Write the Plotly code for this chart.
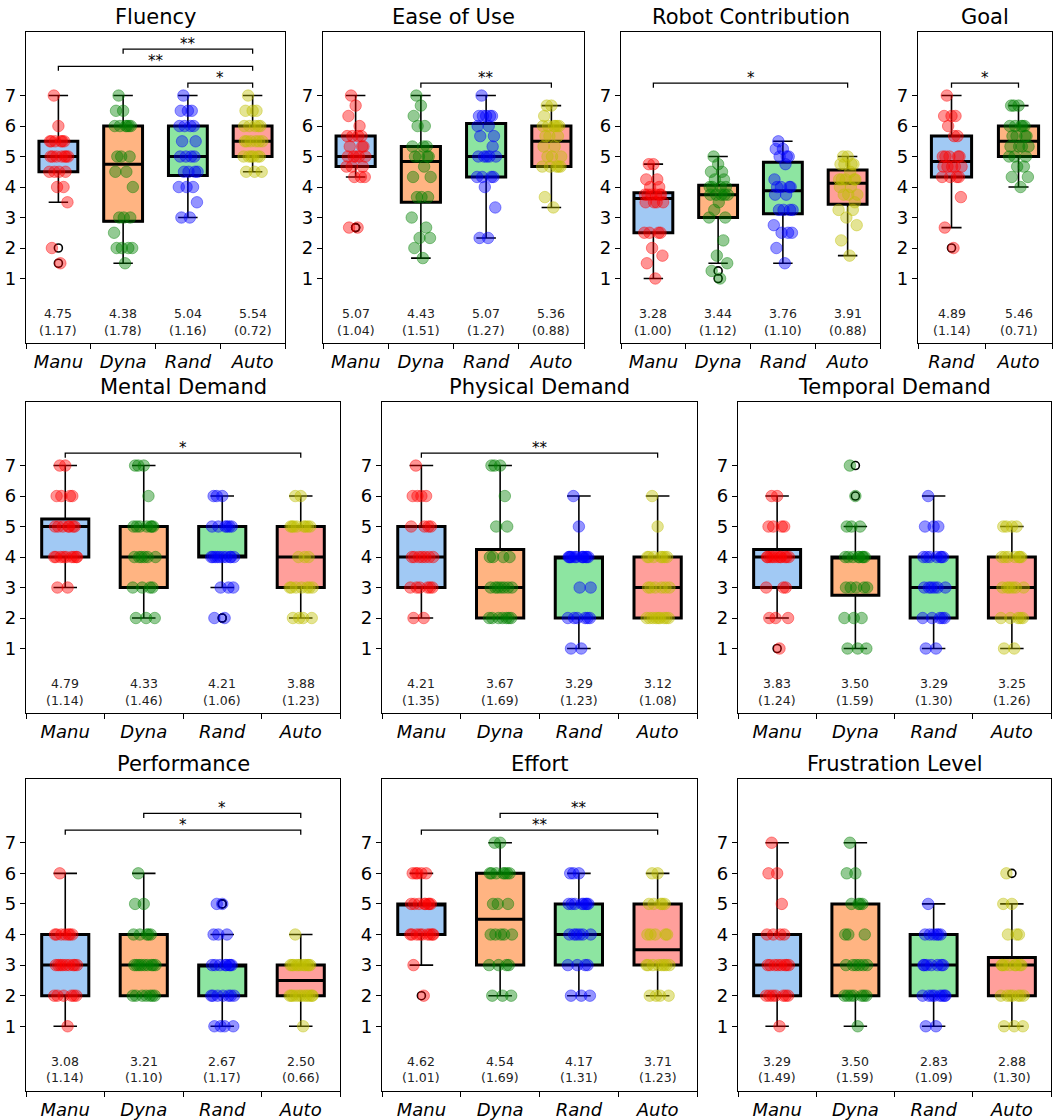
import numpy as np
import plotly.graph_objects as go

W, H = 1057, 1120
FONT = "DejaVu Sans"

# ---------------- data ----------------
CONDS = ["Manu", "Dyna", "Rand", "Auto"]
GOAL_CONDS = ["Rand", "Auto"]

FLU_MANU = [1.5, 2, 3.5, 4, 4, 4.5, 4.5, 4.5, 4.5, 5, 5, 5, 5, 5, 5, 5, 5.5, 5.5, 5.5, 5.5, 5.5, 5.5, 6, 7]
FLU_DYNA = [1.5, 2, 2, 2, 2, 2.5, 3, 3, 3, 4, 4.5, 4.5, 5, 5, 5, 6, 6, 6, 6, 6, 6, 6.5, 6.5, 7]
FLU_RAND = [3, 3, 3.5, 4, 4, 4, 4.5, 4.5, 4.5, 4.5, 5, 5, 5, 5, 5.5, 5.5, 6, 6, 6, 6, 6.5, 6.5, 6.5, 7]
FLU_AUTO = [4.5, 4.5, 4.5, 5, 5, 5, 5, 5, 5, 5.5, 5.5, 5.5, 5.5, 5.5, 5.5, 6, 6, 6, 6, 6, 6.5, 6.5, 6.5, 7]
FLU_MEAN = [4.75, 4.38, 5.04, 5.54]
FLU_SD = [1.17, 1.78, 1.16, 0.72]
FLU_SIG = [(2, 3, "*"), (0, 3, "**"), (1, 3, "**")]

EASE_MANU = [2.67, 2.67, 4.33, 4.33, 4.33, 4.67, 4.67, 4.67, 5, 5, 5, 5, 5, 5.33, 5.33, 5.33, 5.67, 5.67, 5.67, 5.67, 6, 6.33, 6.67, 7]
EASE_DYNA = [1.67, 2, 2.33, 2.33, 2.67, 3, 3.67, 3.67, 3.67, 4.33, 4.33, 4.67, 5, 5, 5, 5, 5.33, 5.33, 5.33, 6, 6, 6.33, 6.67, 7]
EASE_RAND = [2.33, 2.33, 3.33, 4, 4.33, 4.33, 4.33, 4.33, 5, 5, 5, 5, 5, 5.33, 5.67, 5.67, 6, 6, 6.33, 6.33, 6.33, 6.33, 6.33, 7]
EASE_AUTO = [3.33, 3.67, 4.67, 4.67, 4.67, 4.67, 4.67, 5, 5, 5, 5.33, 5.33, 5.67, 5.67, 5.67, 6, 6, 6, 6, 6, 6, 6.33, 6.67, 6.67]
EASE_MEAN = [5.07, 4.43, 5.07, 5.36]
EASE_SD = [1.04, 1.51, 1.27, 0.88]
EASE_SIG = [(1, 3, "**")]

RC_MANU = [1, 1.5, 1.75, 2, 2.5, 2.5, 2.5, 2.5, 3.5, 3.5, 3.5, 3.5, 3.75, 3.75, 3.75, 3.75, 3.75, 3.75, 4, 4, 4.25, 4.25, 4.75, 4.75]
RC_DYNA = [1, 1.25, 1.5, 1.75, 2.25, 3, 3, 3.25, 3.5, 3.75, 3.75, 3.75, 3.75, 3.75, 4, 4, 4, 4, 4.25, 4.25, 4.5, 4.5, 4.75, 5]
RC_RAND = [1.5, 2, 2.5, 2.5, 2.5, 2.75, 3.25, 3.25, 3.25, 3.25, 3.75, 3.75, 4, 4, 4, 4, 4.25, 4.75, 5, 5, 5, 5.25, 5.25, 5.5]
RC_AUTO = [1.75, 2.25, 2.75, 3, 3.25, 3.25, 3.5, 3.75, 3.75, 3.75, 4, 4, 4.25, 4.25, 4.25, 4.25, 4.25, 4.5, 4.75, 4.75, 4.75, 4.75, 5, 5]
RC_MEAN = [3.28, 3.44, 3.76, 3.91]
RC_SD = [1.00, 1.12, 1.10, 0.88]
RC_SIG = [(0, 3, "*")]

GOAL_RAND = [2, 2.67, 3.67, 4.33, 4.33, 4.33, 4.33, 4.67, 4.67, 4.67, 4.67, 4.67, 5, 5, 5, 5, 5, 5.67, 5.67, 6, 6.33, 6.33, 6.33, 7]
GOAL_AUTO = [4, 4.33, 4.33, 4.67, 4.67, 5, 5, 5, 5.33, 5.33, 5.33, 5.33, 5.67, 5.67, 5.67, 5.67, 6, 6, 6, 6, 6, 6.67, 6.67, 6.67]
GOAL_MEAN = [4.89, 5.46]
GOAL_SD = [1.14, 0.71]
GOAL_SIG = [(0, 1, "*")]

MEN_MANU = [3, 3, 4, 4, 4, 4, 4, 4, 4, 4, 4, 5, 5, 5, 5, 5, 5, 5, 6, 6, 6, 6, 7, 7]
MEN_DYNA = [2, 2, 2, 3, 3, 3, 3, 4, 4, 4, 4, 4, 4, 5, 5, 5, 5, 5, 5, 5, 6, 7, 7, 7]
MEN_RAND = [2, 2, 3, 3, 3, 4, 4, 4, 4, 4, 4, 4, 4, 4, 4, 5, 5, 5, 5, 5, 5, 6, 6, 6]
MEN_AUTO = [2, 2, 2, 2, 3, 3, 3, 3, 3, 3, 3, 4, 4, 4, 5, 5, 5, 5, 5, 5, 5, 5, 6, 6]
MEN_MEAN = [4.79, 4.33, 4.21, 3.88]
MEN_SD = [1.14, 1.46, 1.06, 1.23]
MEN_SIG = [(0, 3, "*")]

PHY_MANU = [2, 2, 3, 3, 3, 3, 3, 3, 4, 4, 4, 4, 4, 4, 4, 5, 5, 5, 5, 6, 6, 6, 6, 7]
PHY_DYNA = [2, 2, 2, 2, 2, 2, 2, 3, 3, 3, 3, 3, 3, 3, 4, 4, 4, 4, 5, 5, 6, 7, 7, 7]
PHY_RAND = [1, 1, 2, 2, 2, 2, 2, 2, 3, 3, 4, 4, 4, 4, 4, 4, 4, 4, 4, 4, 4, 4, 5, 6]
PHY_AUTO = [2, 2, 2, 2, 2, 2, 2, 2, 2, 3, 3, 3, 3, 3, 3, 4, 4, 4, 4, 4, 4, 4, 5, 6]
PHY_MEAN = [4.21, 3.67, 3.29, 3.12]
PHY_SD = [1.35, 1.69, 1.23, 1.08]
PHY_SIG = [(0, 3, "**")]

TEM_MANU = [1, 2, 2, 2, 3, 3, 3, 4, 4, 4, 4, 4, 4, 4, 4, 4, 4, 4, 5, 5, 5, 5, 6, 6]
TEM_DYNA = [1, 1, 1, 2, 2, 2, 3, 3, 3, 3, 3, 4, 4, 4, 4, 4, 4, 4, 4, 5, 5, 5, 6, 7]
TEM_RAND = [1, 1, 2, 2, 2, 2, 2, 3, 3, 3, 3, 3, 3, 4, 4, 4, 4, 4, 4, 4, 5, 5, 5, 6]
TEM_AUTO = [1, 1, 2, 2, 2, 2, 2, 3, 3, 3, 3, 3, 3, 4, 4, 4, 4, 4, 4, 4, 5, 5, 5, 5]
TEM_MEAN = [3.83, 3.50, 3.29, 3.25]
TEM_SD = [1.24, 1.59, 1.30, 1.26]
TEM_SIG = []

PER_MANU = [1, 2, 2, 2, 2, 2, 2, 3, 3, 3, 3, 3, 3, 3, 3, 3, 4, 4, 4, 4, 4, 4, 4, 6]
PER_DYNA = [2, 2, 2, 2, 2, 2, 2, 3, 3, 3, 3, 3, 3, 3, 3, 3, 4, 4, 4, 4, 4, 5, 5, 6]
PER_RAND = [1, 1, 1, 1, 2, 2, 2, 2, 2, 2, 2, 3, 3, 3, 3, 3, 3, 3, 3, 4, 4, 4, 5, 5]
PER_AUTO = [1, 2, 2, 2, 2, 2, 2, 2, 2, 2, 2, 2, 3, 3, 3, 3, 3, 3, 3, 3, 3, 3, 3, 4]
PER_MEAN = [3.08, 3.21, 2.67, 2.50]
PER_SD = [1.14, 1.10, 1.17, 0.66]
PER_SIG = [(0, 3, "*"), (1, 3, "*")]

EFF_MANU = [2, 3, 4, 4, 4, 4, 4, 4, 4, 4, 4, 5, 5, 5, 5, 5, 5, 5, 5, 6, 6, 6, 6, 6]
EFF_DYNA = [2, 2, 2, 3, 3, 3, 3, 4, 4, 4, 4, 4, 5, 5, 5, 6, 6, 6, 6, 6, 6, 6, 7, 7]
EFF_RAND = [2, 2, 2, 3, 3, 3, 3, 4, 4, 4, 4, 4, 4, 5, 5, 5, 5, 5, 5, 5, 5, 6, 6, 6]
EFF_AUTO = [2, 2, 2, 2, 3, 3, 3, 3, 3, 3, 3, 3, 4, 4, 4, 4, 4, 5, 5, 5, 5, 5, 6, 6]
EFF_MEAN = [4.62, 4.54, 4.17, 3.71]
EFF_SD = [1.01, 1.69, 1.31, 1.23]
EFF_SIG = [(0, 3, "**"), (1, 3, "**")]

FRU_MANU = [1, 2, 2, 2, 2, 2, 2, 2, 3, 3, 3, 3, 3, 3, 3, 3, 4, 4, 4, 4, 5, 6, 6, 7]
FRU_DYNA = [1, 2, 2, 2, 2, 2, 2, 2, 3, 3, 3, 3, 3, 3, 4, 4, 4, 5, 5, 5, 5, 6, 6, 7]
FRU_RAND = [1, 1, 2, 2, 2, 2, 2, 2, 2, 2, 3, 3, 3, 3, 3, 3, 3, 4, 4, 4, 4, 4, 4, 5]
FRU_AUTO = [1, 1, 1, 2, 2, 2, 2, 2, 2, 2, 3, 3, 3, 3, 3, 3, 3, 3, 4, 4, 4, 5, 5, 6]
FRU_MEAN = [3.29, 3.50, 2.83, 2.88]
FRU_SD = [1.49, 1.59, 1.09, 1.30]
FRU_SIG = []

Y_TICKS = [1, 2, 3, 4, 5, 6, 7]

# ---------------- styles ----------------
PASTEL = ["#a1c9f4", "#ffb482", "#8de5a1", "#ff9f9b"]
POINT = ["rgba(255,0,0,0.42)", "rgba(0,128,0,0.42)", "rgba(0,0,255,0.42)", "rgba(191,191,0,0.42)"]
JIT = [0.03, -0.10, 0.14, -0.02, 0.08, -0.14, 0.11, -0.06, 0.01, 0.15, -0.12, 0.05,
       -0.03, 0.10, -0.09, 0.12, -0.13, 0.04, 0.09, -0.05, 0.06, -0.11, 0.0, -0.07]
LEVELS = [7.41, 7.96, 8.52]
YRANGE = [-1.12, 9.09]
BOX_W = 0.6

PANELS = [
    ("Fluency", [FLU_MANU, FLU_DYNA, FLU_RAND, FLU_AUTO], CONDS, FLU_MEAN, FLU_SD, FLU_SIG, (26, 285, 32, 345)),
    ("Ease of Use", [EASE_MANU, EASE_DYNA, EASE_RAND, EASE_AUTO], CONDS, EASE_MEAN, EASE_SD, EASE_SIG, (323, 584, 32, 345)),
    ("Robot Contribution", [RC_MANU, RC_DYNA, RC_RAND, RC_AUTO], CONDS, RC_MEAN, RC_SD, RC_SIG, (621, 880, 32, 345)),
    ("Goal", [GOAL_RAND, GOAL_AUTO], GOAL_CONDS, GOAL_MEAN, GOAL_SD, GOAL_SIG, (918, 1052, 32, 345)),
    ("Mental Demand", [MEN_MANU, MEN_DYNA, MEN_RAND, MEN_AUTO], CONDS, MEN_MEAN, MEN_SD, MEN_SIG, (26, 340, 404, 717)),
    ("Physical Demand", [PHY_MANU, PHY_DYNA, PHY_RAND, PHY_AUTO], CONDS, PHY_MEAN, PHY_SD, PHY_SIG, (382, 697, 404, 717)),
    ("Temporal Demand", [TEM_MANU, TEM_DYNA, TEM_RAND, TEM_AUTO], CONDS, TEM_MEAN, TEM_SD, TEM_SIG, (738, 1051, 404, 717)),
    ("Performance", [PER_MANU, PER_DYNA, PER_RAND, PER_AUTO], CONDS, PER_MEAN, PER_SD, PER_SIG, (26, 340, 783, 1097)),
    ("Effort", [EFF_MANU, EFF_DYNA, EFF_RAND, EFF_AUTO], CONDS, EFF_MEAN, EFF_SD, EFF_SIG, (382, 697, 783, 1097)),
    ("Frustration Level", [FRU_MANU, FRU_DYNA, FRU_RAND, FRU_AUTO], CONDS, FRU_MEAN, FRU_SD, FRU_SIG, (738, 1051, 783, 1097)),
]


def box_stats(v):
    a = np.asarray(v, dtype=float)
    q1, med, q3 = np.percentile(a, [25, 50, 75])
    iqr = q3 - q1
    lo = a[a >= q1 - 1.5 * iqr].min()
    hi = a[a <= q3 + 1.5 * iqr].max()
    fl = a[(a < lo) | (a > hi)]
    return q1, med, q3, lo, hi, fl


fig = go.Figure()
annotations = []
layout_axes = {}

for k, (title, groups, labels, means, sds, sigs, (px0, px1, py0, py1)) in enumerate(PANELS, start=1):
    sfx = "" if k == 1 else str(k)
    xr, yr = "x" + sfx, "y" + sfx
    n = len(groups)

    layout_axes["xaxis" + sfx] = dict(
        domain=[px0 / W, px1 / W], anchor=yr, range=[-0.5, n - 0.5],
        showline=True, linecolor="black", linewidth=1.2, mirror=True,
        showgrid=False, zeroline=False,
        tickmode="array", tickvals=list(range(n)),
        ticktext=["<i>%s</i>" % l for l in labels],
        ticks="outside", ticklen=2, tickcolor="rgba(0,0,0,0)",
        tickfont=dict(family=FONT, size=18, color="black"),
        minor=dict(ticks="outside", ticklen=5, tickwidth=1.2, tickcolor="black",
                   tickmode="array", tickvals=[i - 0.5 for i in range(n + 1)], showgrid=False),
    )
    layout_axes["yaxis" + sfx] = dict(
        domain=[1 - py1 / H, 1 - py0 / H], anchor=xr, range=YRANGE,
        showline=True, linecolor="black", linewidth=1.2, mirror=True,
        showgrid=False, zeroline=False,
        tickmode="array", tickvals=Y_TICKS,
        ticks="outside", ticklen=5, tickwidth=1.2, tickcolor="black",
        tickfont=dict(family=FONT, size=18, color="black"),
    )

    for i, v in enumerate(groups):
        q1, med, q3, lo, hi, fl = box_stats(v)
        # filled thick box
        fig.add_trace(go.Box(
            x=[i], q1=[q1], median=[med], q3=[q3], lowerfence=[q1], upperfence=[q3],
            orientation="v", width=BOX_W, whiskerwidth=0, boxpoints=False,
            fillcolor=PASTEL[i], line=dict(color="black", width=3),
            xaxis=xr, yaxis=yr, showlegend=False, hoverinfo="skip"))
        # whiskers with caps
        fig.add_trace(go.Box(
            x=[i], q1=[q1], median=[med], q3=[q3], lowerfence=[lo], upperfence=[hi],
            orientation="v", width=BOX_W, whiskerwidth=0.5, boxpoints=False,
            fillcolor="rgba(0,0,0,0)", line=dict(color="black", width=1.6),
            xaxis=xr, yaxis=yr, showlegend=False, hoverinfo="skip"))
        # outliers
        if len(fl):
            fig.add_trace(go.Scatter(
                x=[i] * len(fl), y=list(fl), mode="markers",
                marker=dict(symbol="circle-open", size=8, color="black", line=dict(width=1.6)),
                xaxis=xr, yaxis=yr, showlegend=False, hoverinfo="skip"))
        # jittered individual points
        fig.add_trace(go.Scatter(
            x=[i + JIT[j % len(JIT)] for j in range(len(v))], y=v, mode="markers",
            marker=dict(size=11.5, color=POINT[i], line=dict(color=POINT[i], width=1)),
            xaxis=xr, yaxis=yr, showlegend=False, hoverinfo="skip"))
        # mean (sd)
        annotations.append(dict(x=i, y=-0.14, xref=xr, yref=yr, text="%.2f" % means[i],
                                showarrow=False, xanchor="center", yanchor="middle",
                                font=dict(family=FONT, size=12.5, color="#222")))
        annotations.append(dict(x=i, y=-0.69, xref=xr, yref=yr, text="(%.2f)" % sds[i],
                                showarrow=False, xanchor="center", yanchor="middle",
                                font=dict(family=FONT, size=12.5, color="#222")))

    # significance brackets
    for lvl, (a, b, stars) in enumerate(sigs):
        yl = LEVELS[lvl]
        fig.add_trace(go.Scatter(
            x=[a, a, b, b], y=[yl - 0.15, yl, yl, yl - 0.15], mode="lines",
            line=dict(color="black", width=1.3),
            xaxis=xr, yaxis=yr, showlegend=False, hoverinfo="skip"))
        annotations.append(dict(x=(a + b) / 2, y=yl, xref=xr, yref=yr, text=stars,
                                showarrow=False, xanchor="center", yanchor="bottom", yshift=-6,
                                font=dict(family=FONT, size=15, color="black")))

    # title
    annotations.append(dict(x=(px0 + px1) / 2 / W, y=1 - py0 / H, xref="paper", yref="paper",
                            text=title, showarrow=False, xanchor="center", yanchor="bottom", yshift=1,
                            font=dict(family=FONT, size=21, color="black")))

fig.update_layout(
    width=W, height=H, margin=dict(l=0, r=0, t=0, b=0),
    paper_bgcolor="white", plot_bgcolor="white",
    showlegend=False, boxmode="overlay",
    annotations=annotations, **layout_axes,
)

fig.write_html("out.html")
